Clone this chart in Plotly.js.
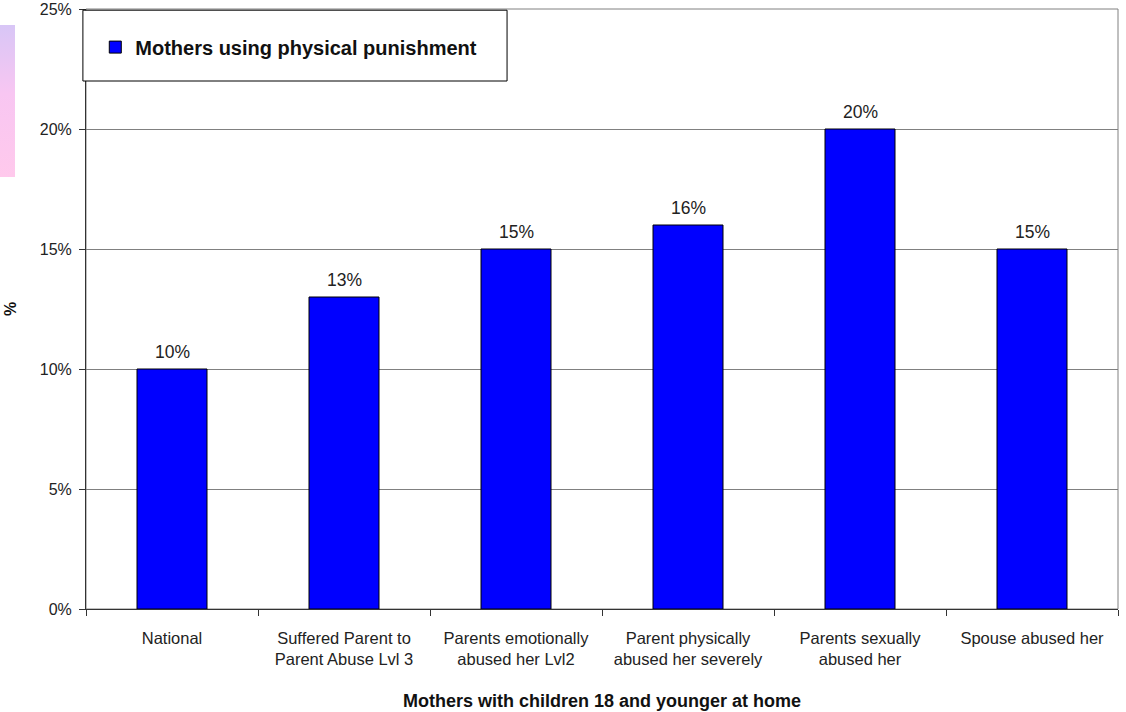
<!DOCTYPE html>
<html>
<head>
<meta charset="utf-8">
<script src="https://cdn.plot.ly/plotly-3.0.1.min.js"></script>
<style>
  html, body { margin: 0; padding: 0; background: #ffffff; }
  #chart { width: 1126px; height: 712px; }
  #swatch {
    position: absolute; left: 0; top: 25px; width: 15px; height: 152px;
    background: linear-gradient(to bottom, #d8c6f6, #f8c6f2 45%, #ffc9ec);
    z-index: 5;
  }
</style>
</head>
<body>
<div id="swatch"></div>
<div id="chart"></div>
<script>
// Share of mothers using physical punishment, by group
const categories = [
  'National',
  'Suffered Parent to<br>Parent Abuse Lvl 3',
  'Parents emotionally<br>abused her Lvl2',
  'Parent physically<br>abused her severely',
  'Parents sexually<br>abused her',
  'Spouse abused her'
];
const seriesName = 'Mothers using physical punishment';
const values = [10, 13, 15, 16, 20, 15];
const yTicks = [0, 5, 10, 15, 20, 25];
const yTickLabels = ['0%', '5%', '10%', '15%', '20%', '25%'];

const font = 'Liberation Sans, Arial, sans-serif';

const trace = {
  type: 'bar',
  name: seriesName,
  x: categories,
  y: values,
  marker: { color: '#0000ff', line: { color: '#000000', width: 1 } },
  width: 0.407,
  hoverinfo: 'x+y',
  showlegend: true
};

// value labels above each bar
const valueLabels = categories.map((c, i) => ({
  x: c, y: values[i], xref: 'x', yref: 'y',
  text: values[i] + '%',
  showarrow: false,
  yanchor: 'bottom',
  yshift: 5,
  font: { family: font, size: 17.5, color: '#222222' }
}));

const layout = {
  width: 1126,
  height: 712,
  margin: { l: 86, r: 8, t: 9, b: 103 },
  paper_bgcolor: '#ffffff',
  plot_bgcolor: '#ffffff',
  font: { family: font, size: 16, color: '#222222' },
  xaxis: {
    type: 'category',
    tickson: 'boundaries',
    ticks: 'outside',
    ticklen: 6,
    tickcolor: '#333333',
    showline: true,
    linecolor: '#333333',
    linewidth: 1,
    showgrid: false,
    ticklabelstandoff: 14,
    tickfont: { family: font, size: 16.5, color: '#222222' },
    title: {
      text: '<b>Mothers with children 18 and younger at home</b>',
      font: { family: font, size: 18, color: '#111111' },
      standoff: 27
    }
  },
  yaxis: {
    range: [0, 25],
    tickvals: yTicks,
    ticktext: yTickLabels,
    ticks: 'outside',
    ticklen: 6,
    tickcolor: '#333333',
    showline: true,
    linecolor: '#333333',
    linewidth: 1,
    showgrid: true,
    gridcolor: '#808080',
    gridwidth: 1,
    zeroline: false,
    ticklabelstandoff: 4,
    tickfont: { family: font, size: 16, color: '#222222' },
    title: {
      text: '<b>%</b>',
      font: { family: font, size: 16, color: '#111111' },
      standoff: 19
    }
  },
  showlegend: true,
  legend: {
    x: 0.009, y: 0.969,
    xanchor: 'left', yanchor: 'top',
    bgcolor: 'rgba(0,0,0,0)',
    borderwidth: 0,
    font: { family: font, size: 20, color: '#111111', weight: 'bold' },
    itemwidth: 30
  },
  annotations: valueLabels,
  shapes: [
    // plot frame on the top and right sides
    { type: 'rect', xref: 'paper', yref: 'paper', x0: 0, x1: 1, y0: 0, y1: 1,
      line: { color: '#808080', width: 1 }, layer: 'below' },
    // legend box
    { type: 'rect', xref: 'paper', yref: 'paper',
      x0: -0.003, x1: 0.408, y0: 0.88, y1: 0.998,
      fillcolor: '#ffffff', line: { color: '#000000', width: 1 }, layer: 'above' }
  ]
};

Plotly.newPlot('chart', [trace], layout, { displayModeBar: false, staticPlot: true });
</script>
</body>
</html>
